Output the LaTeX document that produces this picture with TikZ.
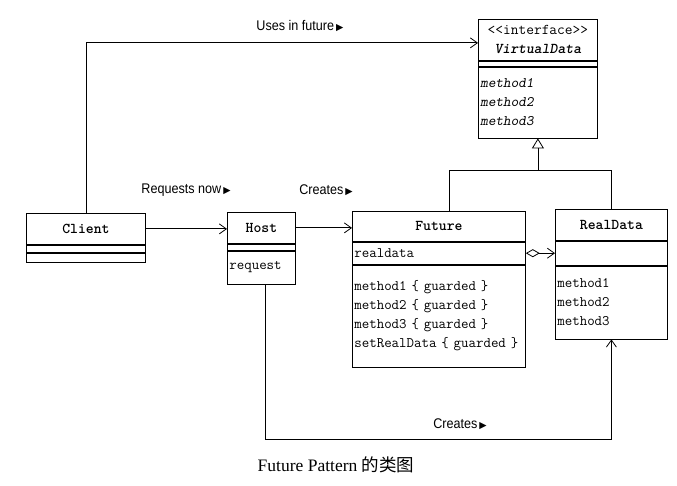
\documentclass[tikz,border=0pt]{standalone}
\usepackage{fontspec}
\newfontfamily\labelfont{Liberation Sans}[FakeStretch=0.9]
\newfontfamily\symfont{DejaVu Sans}
\newfontfamily\capfont{Liberation Serif}
\newfontfamily\cjkfont{Noto Sans CJK SC}
\usetikzlibrary{arrows.meta,positioning}

\newcommand{\namefont}{\fontsize{15}{19}\selectfont\ttfamily\bfseries}
\newcommand{\partfont}{\fontsize{14.5}{19}\selectfont\ttfamily}
\newcommand{\rtri}{\hspace{2pt}{\symfont\fontsize{9.5}{9.5}\selectfont ▶}}

\begin{document}
\begin{tikzpicture}
    [x=1pt, y=-1pt,
    clsname/.style={draw, line width=0.8pt, text width=#1pt, inner xsep=2pt, inner ysep=0pt, align=center, font=\namefont},
    clspart/.style={draw, line width=0.8pt, text width=#1pt, inner xsep=2pt, inner ysep=0pt, align=left, font=\partfont},
    conn/.style={line width=0.8pt},
    assoc/.style={conn, -{Straight Barb[length=7pt, width=10pt]}},
    aggr/.style={conn, {Diamond[open, length=14pt, width=8pt]}-{Straight Barb[length=7pt, width=10pt]}},
    gen/.style={conn, -{Triangle[open, length=10pt, width=12pt]}},
    lbl/.style={font=\labelfont\fontsize{14}{16}\selectfont, inner sep=1pt}]
    \useasboundingbox (0, 0) rectangle (677, 486);
    % 类框
    \node[clsname=115, minimum height=41pt, anchor=north west] (vname) at (478, 19)
        {{\mdseries <\kern0pt<interface>\kern0pt>}\\ \slshape VirtualData};
    \node[clspart=115, minimum height=5pt, below=0pt of vname] (vattr) {};
    \node[clspart=115, minimum height=71pt, below=0pt of vattr, font=\partfont\slshape] (vmeth)
        {method1\\ method2\\ method3};
    \node[clsname=115, minimum height=31pt, anchor=north west] (cname) at (26, 213) {Client};
    \node[clspart=115, minimum height=7pt, below=0pt of cname] (cattr) {};
    \node[clspart=115, minimum height=9pt, below=0pt of cattr] (cmeth) {};
    \node[clsname=64, minimum height=31pt, anchor=north west] (hname) at (227, 212) {Host};
    \node[clspart=64, minimum height=6pt, below=0pt of hname] (hattr) {};
    \node[clspart=64, minimum height=33pt, below=0pt of hattr] (hmeth) {request};
    \node[clsname=169, minimum height=30pt, anchor=north west] (fname) at (352, 211) {Future};
    \node[clspart=169, minimum height=22pt, below=0pt of fname] (fattr) {realdata};
    \node[clspart=169, minimum height=102pt, below=0pt of fattr] (fmeth)
        {method1 \{ guarded \}\\ method2 \{ guarded \}\\ method3 \{ guarded \}\\ \mbox{setRealData \{ guarded \}}};
    \node[clsname=108, minimum height=31pt, anchor=north west] (rname) at (555, 209) {RealData};
    \node[clspart=108, minimum height=24pt, below=0pt of rname] (rattr) {};
    \node[clspart=108, minimum height=73pt, below=0pt of rattr] (rmeth)
        {method1\\ method2\\ method3};
    % 连线
    \draw[assoc] (cname.north) |- ([yshift=-3pt]vname.west);
    \draw[assoc] (cname.east) -- (cname.east -| hname.west);
    \draw[assoc] (hname.east) -- (hname.east -| fname.west);
    \draw[aggr] (fattr.east) -- (fattr.east -| rattr.west);
    \coordinate (inh) at (vmeth.south |- 0, 170);
    \draw[conn] ([xshift=10pt]fname.north) |- (rname.north |- inh) -- (rname.north);
    \draw[gen] (inh) -- (vmeth.south);
    \coordinate (bot) at (0, 439);
    \draw[assoc] ([xshift=4pt]hmeth.south) |- (bot -| rmeth.south) -- (rmeth.south);
    % 标签
    \node[lbl] (usesl) at (300, 26) {Uses in future\rtri};
    \node[lbl] (reql) at (186, 190) {Requests now\rtri};
    \node[lbl] (creal) at (326, 190) {Creates\rtri};
    \node[lbl] (creb) at (460, 424) {Creates\rtri};
    \node[font=\fontsize{17.5}{19}\selectfont] (cap) at (336, 465) {\capfont Future Pattern \cjkfont 的类图};
\end{tikzpicture}
\end{document}
